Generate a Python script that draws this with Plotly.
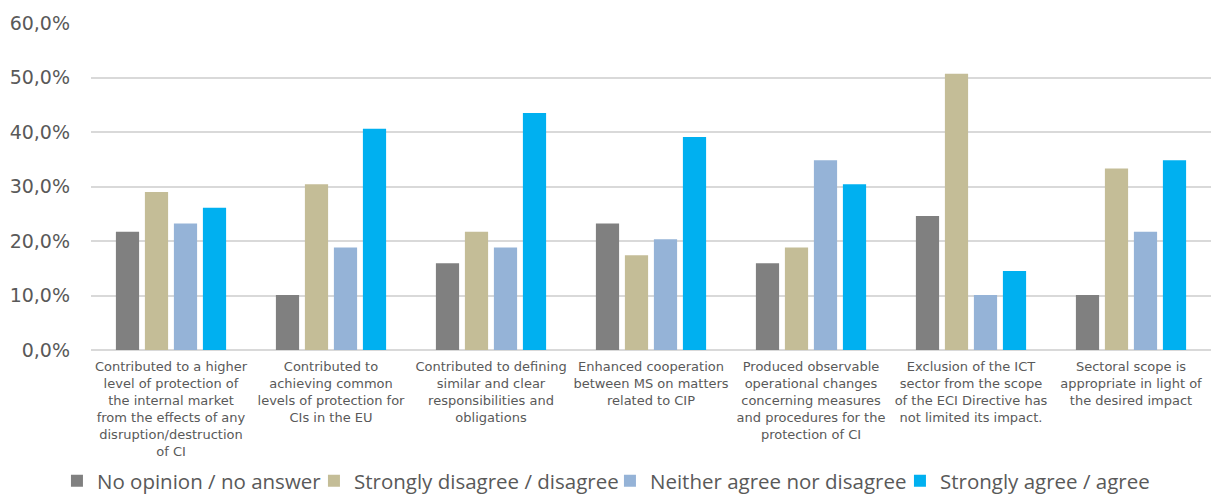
import plotly.graph_objects as go

categories = [
    "Contributed to a higher<br>level of protection of<br>the internal market<br>from the effects of any<br>disruption/destruction<br>of CI",
    "Contributed to<br>achieving common<br>levels of protection for<br>CIs in the EU",
    "Contributed to defining<br>similar and clear<br>responsibilities and<br>obligations",
    "Enhanced cooperation<br>between MS on matters<br>related to CIP",
    "Produced observable<br>operational changes<br>concerning measures<br>and procedures for the<br>protection of CI",
    "Exclusion of the ICT<br>sector from the scope<br>of the ECI Directive has<br>not limited its impact.",
    "Sectoral scope is<br>appropriate in light of<br>the desired impact",
]

no_opinion = [21.7, 10.1, 15.9, 23.2, 15.9, 24.6, 10.1]
disagree = [29.0, 30.4, 21.7, 17.4, 18.8, 50.7, 33.3]
neither = [23.2, 18.8, 18.8, 20.3, 34.8, 10.1, 21.7]
agree = [26.1, 40.6, 43.5, 39.1, 30.4, 14.5, 34.8]

series_names = [
    "No opinion / no answer",
    "Strongly disagree / disagree",
    "Neither agree nor disagree",
    "Strongly agree / agree",
]
colors = ["#808080", "#C4BD97", "#95B3D7", "#00B0F0"]
legend_widths = [212, 251, 245, 216]

tick_vals = [0, 10, 20, 30, 40, 50, 60]
tick_text = ["0,0%", "10,0%", "20,0%", "30,0%", "40,0%", "50,0%", "60,0%"]

fig = go.Figure()
for name, vals, col, lw in zip(series_names, [no_opinion, disagree, neither, agree], colors, legend_widths):
    fig.add_trace(go.Bar(
        x=categories, y=vals, name=name,
        marker=dict(color=col, line=dict(width=0)),
        legendwidth=lw,
    ))

fig.update_layout(
    width=1211, height=495,
    barmode="group", bargap=0.275, bargroupgap=0.2,
    plot_bgcolor="white", paper_bgcolor="white",
    margin=dict(l=91, r=0, t=23, b=144.5, pad=0, autoexpand=False),
    font=dict(family="DejaVu Sans", color="#595959"),
    legend=dict(
        orientation="h", x=-0.0304, xanchor="left", y=-0.4, yanchor="middle",
        font=dict(family="Open Sans", size=20.5, color="#595959"),
        itemwidth=30, tracegroupgap=0, bgcolor="rgba(0,0,0,0)",
    ),
    showlegend=True,
)
fig.update_yaxes(
    range=[0, 60], tickvals=tick_vals, ticktext=tick_text,
    showgrid=True, gridcolor="#D9D9D9", gridwidth=1.5,
    zeroline=True, zerolinecolor="#D9D9D9", zerolinewidth=1.5,
    tickfont=dict(size=19, color="#595959"), ticks="", ticklabelstandoff=20,
    showline=False,
)
fig.update_xaxes(
    tickfont=dict(size=13, color="#595959"), tickangle=0,
    showgrid=False, showline=False, ticks="", ticklabelstandoff=7,
)

fig.write_html("out.html", config={"displayModeBar": False},
               post_script="document.body.style.margin='0';")
